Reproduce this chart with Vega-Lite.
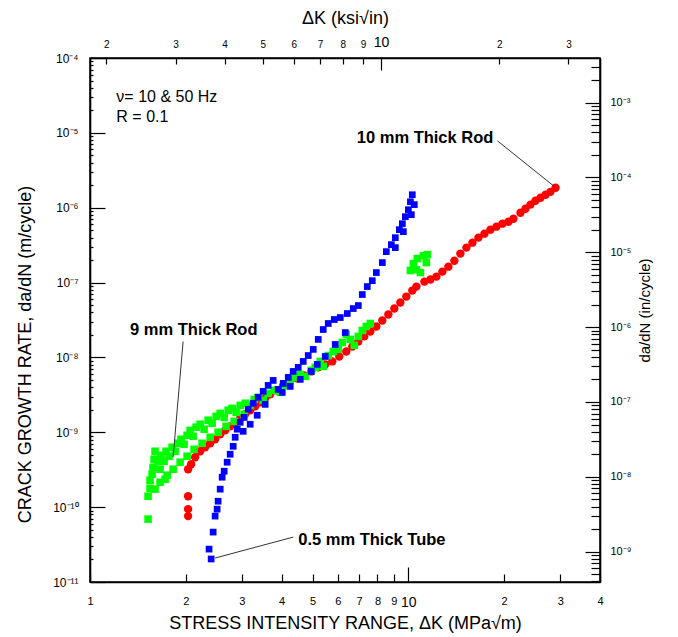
{
  "$schema": "https://vega.github.io/schema/vega-lite/v6.json",
  "width": 510,
  "height": 524,
  "autosize": {"type": "none"},
  "padding": {"left": 90, "top": 58, "right": 78, "bottom": 55},
  "background": "white",
  "config": {
    "font": "Liberation Sans",
    "view": {"stroke": "#000000", "strokeWidth": 1.5},
    "axis": {"domain": true, "domainColor": "#000000", "domainWidth": 1.6, "grid": false, "ticks": true, "tickColor": "#000000", "tickWidth": 1.2, "labelOverlap": false, "labelBound": false, "labelFlush": false, "labelColor": "#000000", "titleColor": "#000000", "labelFont": "Liberation Sans", "titleFont": "Liberation Sans", "titleFontWeight": "normal"}
  },
  "datasets": {
    "pts": [
      {"dK": 2.033, "rate": 7.59e-11, "series": "10 mm Thick Rod"},
      {"dK": 2.033, "rate": 9.4e-11, "series": "10 mm Thick Rod"},
      {"dK": 2.033, "rate": 1.40e-10, "series": "10 mm Thick Rod"},
      {"dK": 2.033, "rate": 3.21e-10, "series": "10 mm Thick Rod"},
      {"dK": 2.078, "rate": 3.74e-10, "series": "10 mm Thick Rod"},
      {"dK": 2.139, "rate": 4.64e-10, "series": "10 mm Thick Rod"},
      {"dK": 2.218, "rate": 5.58e-10, "series": "10 mm Thick Rod"},
      {"dK": 2.299, "rate": 6.31e-10, "series": "10 mm Thick Rod"},
      {"dK": 2.385, "rate": 7.13e-10, "series": "10 mm Thick Rod"},
      {"dK": 2.472, "rate": 8.07e-10, "series": "10 mm Thick Rod"},
      {"dK": 2.564, "rate": 9.40e-10, "series": "10 mm Thick Rod"},
      {"dK": 2.658, "rate": 1.06e-9, "series": "10 mm Thick Rod"},
      {"dK": 2.756, "rate": 1.20e-9, "series": "10 mm Thick Rod"},
      {"dK": 2.858, "rate": 1.36e-9, "series": "10 mm Thick Rod"},
      {"dK": 2.963, "rate": 1.54e-9, "series": "10 mm Thick Rod"},
      {"dK": 3.072, "rate": 1.74e-9, "series": "10 mm Thick Rod"},
      {"dK": 3.185, "rate": 1.97e-9, "series": "10 mm Thick Rod"},
      {"dK": 3.303, "rate": 2.22e-9, "series": "10 mm Thick Rod"},
      {"dK": 3.424, "rate": 2.51e-9, "series": "10 mm Thick Rod"},
      {"dK": 3.550, "rate": 2.84e-9, "series": "10 mm Thick Rod"},
      {"dK": 3.681, "rate": 3.21e-9, "series": "10 mm Thick Rod"},
      {"dK": 3.845, "rate": 3.63e-9, "series": "10 mm Thick Rod"},
      {"dK": 4.046, "rate": 4.23e-9, "series": "10 mm Thick Rod"},
      {"dK": 4.255, "rate": 4.79e-9, "series": "10 mm Thick Rod"},
      {"dK": 4.476, "rate": 5.25e-9, "series": "10 mm Thick Rod"},
      {"dK": 4.710, "rate": 5.75e-9, "series": "10 mm Thick Rod"},
      {"dK": 4.955, "rate": 6.50e-9, "series": "10 mm Thick Rod"},
      {"dK": 5.212, "rate": 7.36e-9, "series": "10 mm Thick Rod"},
      {"dK": 5.483, "rate": 8.07e-9, "series": "10 mm Thick Rod"},
      {"dK": 5.768, "rate": 8.84e-9, "series": "10 mm Thick Rod"},
      {"dK": 6.067, "rate": 1.03e-8, "series": "10 mm Thick Rod"},
      {"dK": 6.383, "rate": 1.20e-8, "series": "10 mm Thick Rod"},
      {"dK": 6.668, "rate": 1.40e-8, "series": "10 mm Thick Rod"},
      {"dK": 6.964, "rate": 1.63e-8, "series": "10 mm Thick Rod"},
      {"dK": 7.272, "rate": 1.91e-8, "series": "10 mm Thick Rod"},
      {"dK": 7.596, "rate": 2.22e-8, "series": "10 mm Thick Rod"},
      {"dK": 7.934, "rate": 2.59e-8, "series": "10 mm Thick Rod"},
      {"dK": 8.284, "rate": 3.11e-8, "series": "10 mm Thick Rod"},
      {"dK": 8.652, "rate": 3.74e-8, "series": "10 mm Thick Rod"},
      {"dK": 9.036, "rate": 4.50e-8, "series": "10 mm Thick Rod"},
      {"dK": 9.437, "rate": 5.41e-8, "series": "10 mm Thick Rod"},
      {"dK": 9.856, "rate": 6.50e-8, "series": "10 mm Thick Rod"},
      {"dK": 10.29, "rate": 7.82e-8, "series": "10 mm Thick Rod"},
      {"dK": 10.60, "rate": 8.84e-8, "series": "10 mm Thick Rod"},
      {"dK": 11.23, "rate": 1.03e-7, "series": "10 mm Thick Rod"},
      {"dK": 11.73, "rate": 1.10e-7, "series": "10 mm Thick Rod"},
      {"dK": 12.25, "rate": 1.20e-7, "series": "10 mm Thick Rod"},
      {"dK": 12.79, "rate": 1.40e-7, "series": "10 mm Thick Rod"},
      {"dK": 13.36, "rate": 1.63e-7, "series": "10 mm Thick Rod"},
      {"dK": 13.95, "rate": 1.96e-7, "series": "10 mm Thick Rod"},
      {"dK": 14.57, "rate": 2.44e-7, "series": "10 mm Thick Rod"},
      {"dK": 15.22, "rate": 2.93e-7, "series": "10 mm Thick Rod"},
      {"dK": 15.90, "rate": 3.41e-7, "series": "10 mm Thick Rod"},
      {"dK": 16.60, "rate": 3.98e-7, "series": "10 mm Thick Rod"},
      {"dK": 17.34, "rate": 4.50e-7, "series": "10 mm Thick Rod"},
      {"dK": 18.11, "rate": 5.09e-7, "series": "10 mm Thick Rod"},
      {"dK": 18.91, "rate": 5.58e-7, "series": "10 mm Thick Rod"},
      {"dK": 19.75, "rate": 6.12e-7, "series": "10 mm Thick Rod"},
      {"dK": 20.63, "rate": 6.50e-7, "series": "10 mm Thick Rod"},
      {"dK": 21.39, "rate": 7.13e-7, "series": "10 mm Thick Rod"},
      {"dK": 22.50, "rate": 8.58e-7, "series": "10 mm Thick Rod"},
      {"dK": 23.33, "rate": 9.70e-7, "series": "10 mm Thick Rod"},
      {"dK": 24.19, "rate": 1.10e-6, "series": "10 mm Thick Rod"},
      {"dK": 25.08, "rate": 1.24e-6, "series": "10 mm Thick Rod"},
      {"dK": 26.01, "rate": 1.36e-6, "series": "10 mm Thick Rod"},
      {"dK": 26.97, "rate": 1.49e-6, "series": "10 mm Thick Rod"},
      {"dK": 27.96, "rate": 1.63e-6, "series": "10 mm Thick Rod"},
      {"dK": 29.00, "rate": 1.85e-6, "series": "10 mm Thick Rod"},

      {"dK": 1.522, "rate": 6.92e-11, "series": "9 mm Thick Rod"},
      {"dK": 1.522, "rate": 1.40e-10, "series": "9 mm Thick Rod"},
      {"dK": 1.544, "rate": 1.79e-10, "series": "9 mm Thick Rod"},
      {"dK": 1.544, "rate": 2.29e-10, "series": "9 mm Thick Rod"},
      {"dK": 1.567, "rate": 2.75e-10, "series": "9 mm Thick Rod"},
      {"dK": 1.578, "rate": 3.41e-10, "series": "9 mm Thick Rod"},
      {"dK": 1.590, "rate": 4.37e-10, "series": "9 mm Thick Rod"},
      {"dK": 1.601, "rate": 5.58e-10, "series": "9 mm Thick Rod"},
      {"dK": 1.601, "rate": 1.74e-10, "series": "9 mm Thick Rod"},
      {"dK": 1.636, "rate": 4.10e-10, "series": "9 mm Thick Rod"},
      {"dK": 1.660, "rate": 3.21e-10, "series": "9 mm Thick Rod"},
      {"dK": 1.660, "rate": 2.15e-10, "series": "9 mm Thick Rod"},
      {"dK": 1.672, "rate": 4.93e-10, "series": "9 mm Thick Rod"},
      {"dK": 1.709, "rate": 4.10e-10, "series": "9 mm Thick Rod"},
      {"dK": 1.722, "rate": 2.36e-10, "series": "9 mm Thick Rod"},
      {"dK": 1.734, "rate": 5.58e-10, "series": "9 mm Thick Rod"},
      {"dK": 1.747, "rate": 2.67e-10, "series": "9 mm Thick Rod"},
      {"dK": 1.772, "rate": 4.79e-10, "series": "9 mm Thick Rod"},
      {"dK": 1.811, "rate": 6.31e-10, "series": "9 mm Thick Rod"},
      {"dK": 1.824, "rate": 3.21e-10, "series": "9 mm Thick Rod"},
      {"dK": 1.851, "rate": 5.58e-10, "series": "9 mm Thick Rod"},
      {"dK": 1.891, "rate": 7.13e-10, "series": "9 mm Thick Rod"},
      {"dK": 1.919, "rate": 3.98e-10, "series": "9 mm Thick Rod"},
      {"dK": 1.932, "rate": 8.07e-10, "series": "9 mm Thick Rod"},
      {"dK": 1.975, "rate": 6.92e-10, "series": "9 mm Thick Rod"},
      {"dK": 2.018, "rate": 9.12e-10, "series": "9 mm Thick Rod"},
      {"dK": 2.018, "rate": 4.79e-10, "series": "9 mm Thick Rod"},
      {"dK": 2.063, "rate": 1.06e-9, "series": "9 mm Thick Rod"},
      {"dK": 2.108, "rate": 8.84e-10, "series": "9 mm Thick Rod"},
      {"dK": 2.123, "rate": 5.93e-10, "series": "9 mm Thick Rod"},
      {"dK": 2.154, "rate": 1.17e-9, "series": "9 mm Thick Rod"},
      {"dK": 2.218, "rate": 1.28e-9, "series": "9 mm Thick Rod"},
      {"dK": 2.250, "rate": 7.13e-10, "series": "9 mm Thick Rod"},
      {"dK": 2.283, "rate": 1.10e-9, "series": "9 mm Thick Rod"},
      {"dK": 2.350, "rate": 1.45e-9, "series": "9 mm Thick Rod"},
      {"dK": 2.385, "rate": 8.58e-10, "series": "9 mm Thick Rod"},
      {"dK": 2.419, "rate": 1.32e-9, "series": "9 mm Thick Rod"},
      {"dK": 2.490, "rate": 1.63e-9, "series": "9 mm Thick Rod"},
      {"dK": 2.526, "rate": 1.00e-9, "series": "9 mm Thick Rod"},
      {"dK": 2.564, "rate": 1.79e-9, "series": "9 mm Thick Rod"},
      {"dK": 2.639, "rate": 1.58e-9, "series": "9 mm Thick Rod"},
      {"dK": 2.677, "rate": 1.20e-9, "series": "9 mm Thick Rod"},
      {"dK": 2.716, "rate": 1.97e-9, "series": "9 mm Thick Rod"},
      {"dK": 2.796, "rate": 2.09e-9, "series": "9 mm Thick Rod"},
      {"dK": 2.837, "rate": 1.40e-9, "series": "9 mm Thick Rod"},
      {"dK": 2.878, "rate": 1.85e-9, "series": "9 mm Thick Rod"},
      {"dK": 2.963, "rate": 2.29e-9, "series": "9 mm Thick Rod"},
      {"dK": 3.050, "rate": 1.74e-9, "series": "9 mm Thick Rod"},
      {"dK": 3.072, "rate": 2.44e-9, "series": "9 mm Thick Rod"},
      {"dK": 3.185, "rate": 2.29e-9, "series": "9 mm Thick Rod"},
      {"dK": 3.279, "rate": 2.75e-9, "series": "9 mm Thick Rod"},
      {"dK": 3.375, "rate": 2.93e-9, "series": "9 mm Thick Rod"},
      {"dK": 3.499, "rate": 2.67e-9, "series": "9 mm Thick Rod"},
      {"dK": 3.628, "rate": 3.31e-9, "series": "9 mm Thick Rod"},
      {"dK": 3.789, "rate": 3.63e-9, "series": "9 mm Thick Rod"},
      {"dK": 3.958, "rate": 3.41e-9, "series": "9 mm Thick Rod"},
      {"dK": 4.105, "rate": 4.23e-9, "series": "9 mm Thick Rod"},
      {"dK": 4.255, "rate": 4.93e-9, "series": "9 mm Thick Rod"},
      {"dK": 4.412, "rate": 5.41e-9, "series": "9 mm Thick Rod"},
      {"dK": 4.575, "rate": 5.93e-9, "series": "9 mm Thick Rod"},
      {"dK": 4.744, "rate": 5.58e-9, "series": "9 mm Thick Rod"},
      {"dK": 4.955, "rate": 6.71e-9, "series": "9 mm Thick Rod"},
      {"dK": 5.100, "rate": 7.36e-9, "series": "9 mm Thick Rod"},
      {"dK": 5.288, "rate": 8.84e-9, "series": "9 mm Thick Rod"},
      {"dK": 5.404, "rate": 7.59e-9, "series": "9 mm Thick Rod"},
      {"dK": 5.603, "rate": 1.06e-8, "series": "9 mm Thick Rod"},
      {"dK": 5.810, "rate": 1.20e-8, "series": "9 mm Thick Rod"},
      {"dK": 6.025, "rate": 1.28e-8, "series": "9 mm Thick Rod"},
      {"dK": 6.201, "rate": 1.58e-8, "series": "9 mm Thick Rod"},
      {"dK": 6.383, "rate": 2.03e-8, "series": "9 mm Thick Rod"},
      {"dK": 6.570, "rate": 1.74e-8, "series": "9 mm Thick Rod"},
      {"dK": 6.764, "rate": 1.45e-8, "series": "9 mm Thick Rod"},
      {"dK": 6.964, "rate": 1.91e-8, "series": "9 mm Thick Rod"},
      {"dK": 7.167, "rate": 2.29e-8, "series": "9 mm Thick Rod"},
      {"dK": 7.378, "rate": 2.59e-8, "series": "9 mm Thick Rod"},
      {"dK": 7.596, "rate": 2.84e-8, "series": "9 mm Thick Rod"},
      {"dK": 10.15, "rate": 1.45e-7, "series": "9 mm Thick Rod"},
      {"dK": 10.37, "rate": 1.79e-7, "series": "9 mm Thick Rod"},
      {"dK": 10.60, "rate": 1.49e-7, "series": "9 mm Thick Rod"},
      {"dK": 10.67, "rate": 2.09e-7, "series": "9 mm Thick Rod"},
      {"dK": 10.91, "rate": 1.36e-7, "series": "9 mm Thick Rod"},
      {"dK": 11.15, "rate": 2.29e-7, "series": "9 mm Thick Rod"},
      {"dK": 11.39, "rate": 1.85e-7, "series": "9 mm Thick Rod"},
      {"dK": 11.47, "rate": 2.36e-7, "series": "9 mm Thick Rod"},

      {"dK": 2.402, "rate": 2.03e-11, "series": "0.5 mm Thick Tube"},
      {"dK": 2.366, "rate": 2.75e-11, "series": "0.5 mm Thick Tube"},
      {"dK": 2.437, "rate": 4.64e-11, "series": "0.5 mm Thick Tube"},
      {"dK": 2.472, "rate": 7.59e-11, "series": "0.5 mm Thick Tube"},
      {"dK": 2.508, "rate": 9.40e-11, "series": "0.5 mm Thick Tube"},
      {"dK": 2.526, "rate": 1.20e-10, "series": "0.5 mm Thick Tube"},
      {"dK": 2.564, "rate": 1.74e-10, "series": "0.5 mm Thick Tube"},
      {"dK": 2.601, "rate": 2.51e-10, "series": "0.5 mm Thick Tube"},
      {"dK": 2.639, "rate": 3.02e-10, "series": "0.5 mm Thick Tube"},
      {"dK": 2.697, "rate": 3.98e-10, "series": "0.5 mm Thick Tube"},
      {"dK": 2.756, "rate": 5.09e-10, "series": "0.5 mm Thick Tube"},
      {"dK": 2.817, "rate": 6.50e-10, "series": "0.5 mm Thick Tube"},
      {"dK": 2.858, "rate": 8.58e-10, "series": "0.5 mm Thick Tube"},
      {"dK": 2.900, "rate": 1.10e-9, "series": "0.5 mm Thick Tube"},
      {"dK": 2.963, "rate": 1.36e-9, "series": "0.5 mm Thick Tube"},
      {"dK": 3.050, "rate": 1.58e-9, "series": "0.5 mm Thick Tube"},
      {"dK": 3.140, "rate": 2.03e-9, "series": "0.5 mm Thick Tube"},
      {"dK": 3.255, "rate": 2.44e-9, "series": "0.5 mm Thick Tube"},
      {"dK": 3.375, "rate": 2.93e-9, "series": "0.5 mm Thick Tube"},
      {"dK": 3.499, "rate": 3.52e-9, "series": "0.5 mm Thick Tube"},
      {"dK": 3.628, "rate": 4.23e-9, "series": "0.5 mm Thick Tube"},
      {"dK": 3.762, "rate": 4.93e-9, "series": "0.5 mm Thick Tube"},
      {"dK": 3.028, "rate": 1.03e-9, "series": "0.5 mm Thick Tube"},
      {"dK": 3.185, "rate": 1.28e-9, "series": "0.5 mm Thick Tube"},
      {"dK": 3.351, "rate": 1.69e-9, "series": "0.5 mm Thick Tube"},
      {"dK": 3.550, "rate": 2.36e-9, "series": "0.5 mm Thick Tube"},
      {"dK": 3.901, "rate": 3.74e-9, "series": "0.5 mm Thick Tube"},
      {"dK": 4.017, "rate": 3.41e-9, "series": "0.5 mm Thick Tube"},
      {"dK": 4.046, "rate": 4.50e-9, "series": "0.5 mm Thick Tube"},
      {"dK": 4.195, "rate": 5.41e-9, "series": "0.5 mm Thick Tube"},
      {"dK": 4.255, "rate": 4.10e-9, "series": "0.5 mm Thick Tube"},
      {"dK": 4.348, "rate": 6.50e-9, "series": "0.5 mm Thick Tube"},
      {"dK": 4.509, "rate": 7.36e-9, "series": "0.5 mm Thick Tube"},
      {"dK": 4.575, "rate": 5.09e-9, "series": "0.5 mm Thick Tube"},
      {"dK": 4.676, "rate": 8.84e-9, "series": "0.5 mm Thick Tube"},
      {"dK": 4.847, "rate": 1.06e-8, "series": "0.5 mm Thick Tube"},
      {"dK": 4.955, "rate": 6.50e-9, "series": "0.5 mm Thick Tube"},
      {"dK": 5.027, "rate": 1.28e-8, "series": "0.5 mm Thick Tube"},
      {"dK": 5.174, "rate": 8.07e-9, "series": "0.5 mm Thick Tube"},
      {"dK": 5.212, "rate": 1.74e-8, "series": "0.5 mm Thick Tube"},
      {"dK": 5.404, "rate": 2.36e-8, "series": "0.5 mm Thick Tube"},
      {"dK": 5.483, "rate": 1.03e-8, "series": "0.5 mm Thick Tube"},
      {"dK": 5.603, "rate": 2.84e-8, "series": "0.5 mm Thick Tube"},
      {"dK": 5.852, "rate": 3.21e-8, "series": "0.5 mm Thick Tube"},
      {"dK": 5.893, "rate": 1.49e-8, "series": "0.5 mm Thick Tube"},
      {"dK": 6.112, "rate": 3.41e-8, "series": "0.5 mm Thick Tube"},
      {"dK": 6.337, "rate": 2.15e-8, "series": "0.5 mm Thick Tube"},
      {"dK": 6.430, "rate": 3.86e-8, "series": "0.5 mm Thick Tube"},
      {"dK": 6.714, "rate": 4.50e-8, "series": "0.5 mm Thick Tube"},
      {"dK": 6.964, "rate": 4.93e-8, "series": "0.5 mm Thick Tube"},
      {"dK": 7.167, "rate": 6.92e-8, "series": "0.5 mm Thick Tube"},
      {"dK": 7.431, "rate": 8.84e-8, "series": "0.5 mm Thick Tube"},
      {"dK": 7.704, "rate": 1.06e-7, "series": "0.5 mm Thick Tube"},
      {"dK": 7.934, "rate": 1.36e-7, "series": "0.5 mm Thick Tube"},
      {"dK": 8.284, "rate": 1.85e-7, "series": "0.5 mm Thick Tube"},
      {"dK": 8.527, "rate": 2.59e-7, "series": "0.5 mm Thick Tube"},
      {"dK": 8.842, "rate": 3.21e-7, "series": "0.5 mm Thick Tube"},
      {"dK": 9.101, "rate": 2.93e-7, "series": "0.5 mm Thick Tube"},
      {"dK": 9.101, "rate": 3.98e-7, "series": "0.5 mm Thick Tube"},
      {"dK": 9.370, "rate": 5.09e-7, "series": "0.5 mm Thick Tube"},
      {"dK": 9.575, "rate": 6.12e-7, "series": "0.5 mm Thick Tube"},
      {"dK": 9.645, "rate": 4.79e-7, "series": "0.5 mm Thick Tube"},
      {"dK": 9.786, "rate": 7.59e-7, "series": "0.5 mm Thick Tube"},
      {"dK": 10.00, "rate": 9.40e-7, "series": "0.5 mm Thick Tube"},
      {"dK": 10.22, "rate": 8.07e-7, "series": "0.5 mm Thick Tube"},
      {"dK": 10.15, "rate": 1.20e-6, "series": "0.5 mm Thick Tube"},
      {"dK": 10.44, "rate": 1.10e-6, "series": "0.5 mm Thick Tube"},
      {"dK": 10.29, "rate": 1.49e-6, "series": "0.5 mm Thick Tube"}
    ],
    "notesPlain": [
      {"dK": 1.21, "rate": 3.02e-5, "label": "ν= 10 & 50 Hz"},
      {"dK": 1.21, "rate": 1.63e-5, "label": "R = 0.1"}
    ],
    "notesLeft": [
      {"dK": 1.336, "rate": 2.36e-8, "label": "9 mm Thick Rod"},
      {"dK": 4.509, "rate": 3.63e-11, "label": "0.5 mm Thick Tube"}
    ],
    "notesRight": [
      {"dK": 18.5, "rate": 8.58e-6, "label": "10 mm Thick Rod"}
    ],
    "leaders": [
      {"dK": 19.05, "rate": 7.82e-6, "dK2": 28.58, "rate2": 1.96e-6},
      {"dK": 1.961, "rate": 1.63e-8, "dK2": 1.824, "rate2": 4.64e-10},
      {"dK": 4.348, "rate": 3.98e-11, "dK2": 2.472, "rate2": 2.09e-11}
    ],
    "anchors": [
      {"ksi": 10, "inch": 1e-6}
    ]
  },
  "layer": [
    {
      "layer": [
        {
          "data": {"name": "pts"},
          "mark": {"type": "point", "filled": true, "opacity": 1, "strokeWidth": 0},
          "encoding": {
            "x": {
              "field": "dK", "type": "quantitative",
              "scale": {"type": "log", "domain": [1, 40], "nice": false},
              "title": "STRESS INTENSITY RANGE, ΔK  (MPa√m)",
              "axis": {
                "orient": "bottom",
                "values": [1, 2, 3, 4, 5, 6, 7, 8, 9, 10, 20, 30, 40],
                "labelExpr": "datum.value == 20 ? '2' : datum.value == 30 ? '3' : datum.value == 40 ? '4' : '' + datum.value",
                "labelFontSize": {"condition": {"test": "datum.value == 10", "value": 14}, "value": 11},
                "tickSize": {"condition": {"test": "datum.value == 10", "value": -15}, "value": -8},
                "labelPadding": {"condition": {"test": "datum.value == 10", "value": 28}, "value": 21},
                "titleFontSize": 18, "titlePadding": 5
              }
            },
            "y": {
              "field": "rate", "type": "quantitative",
              "scale": {"type": "log", "domain": [1e-11, 1e-4], "nice": false},
              "title": "CRACK GROWTH RATE, da/dN  (m/cycle)",
              "axis": {
                "orient": "left",
                "values": [1e-11, 2e-11, 3e-11, 4e-11, 5e-11, 6e-11, 7e-11, 8e-11, 9e-11, 1e-10, 2e-10, 3e-10, 4e-10, 5e-10, 6e-10, 7e-10, 8e-10, 9e-10, 1e-9, 2e-9, 3e-9, 4e-9, 5e-9, 6e-9, 7e-9, 8e-9, 9e-9, 1e-8, 2e-8, 3e-8, 4e-8, 5e-8, 6e-8, 7e-8, 8e-8, 9e-8, 1e-7, 2e-7, 3e-7, 4e-7, 5e-7, 6e-7, 7e-7, 8e-7, 9e-7, 1e-6, 2e-6, 3e-6, 4e-6, 5e-6, 6e-6, 7e-6, 8e-6, 9e-6, 1e-5, 2e-5, 3e-5, 4e-5, 5e-5, 6e-5, 7e-5, 8e-5, 9e-5, 1e-4],
                "labelExpr": "datum.value == 1e-4 ? '10⁻⁴' : datum.value == 1e-5 ? '10⁻⁵' : datum.value == 1e-6 ? '10⁻⁶' : datum.value == 1e-7 ? '10⁻⁷' : datum.value == 1e-8 ? '10⁻⁸' : datum.value == 1e-9 ? '10⁻⁹' : datum.value == 1e-10 ? '10⁻¹⁰' : datum.value == 1e-11 ? '10⁻¹¹' : ''",
                "labelFontSize": 12,
                "tickSize": {"condition": {"test": "abs(log(datum.value)/LN10 - round(log(datum.value)/LN10)) < 0.001", "value": -15}, "value": -3},
                "labelPadding": {"condition": {"test": "abs(log(datum.value)/LN10 - round(log(datum.value)/LN10)) < 0.001", "value": 27}, "value": 15},
                "titleFontSize": 18, "titlePadding": 18, "titleY": 296
              }
            },
            "color": {
              "field": "series", "type": "nominal", "legend": null,
              "scale": {"domain": ["10 mm Thick Rod", "9 mm Thick Rod", "0.5 mm Thick Tube"], "range": ["#ff0000", "#00ff00", "#0000ff"]}
            },
            "shape": {
              "field": "series", "type": "nominal", "legend": null,
              "scale": {"domain": ["10 mm Thick Rod", "9 mm Thick Rod", "0.5 mm Thick Tube"], "range": ["circle", "square", "square"]}
            },
            "size": {
              "field": "series", "type": "nominal", "legend": null,
              "scale": {"domain": ["10 mm Thick Rod", "9 mm Thick Rod", "0.5 mm Thick Tube"], "range": [70, 45, 34]}
            }
          }
        },
        {
          "data": {"name": "leaders"},
          "mark": {"type": "rule", "color": "#333333", "strokeWidth": 1},
          "encoding": {
            "x": {"field": "dK", "type": "quantitative", "title": "STRESS INTENSITY RANGE, ΔK  (MPa√m)"},
            "y": {"field": "rate", "type": "quantitative", "title": "CRACK GROWTH RATE, da/dN  (m/cycle)"},
            "x2": {"field": "dK2"},
            "y2": {"field": "rate2"}
          }
        },
        {
          "data": {"name": "notesPlain"},
          "mark": {"type": "text", "align": "left", "baseline": "middle", "fontSize": 16, "font": "Liberation Sans", "color": "#000000"},
          "encoding": {
            "x": {"field": "dK", "type": "quantitative", "title": "STRESS INTENSITY RANGE, ΔK  (MPa√m)"},
            "y": {"field": "rate", "type": "quantitative", "title": "CRACK GROWTH RATE, da/dN  (m/cycle)"},
            "text": {"field": "label"}
          }
        },
        {
          "data": {"name": "notesLeft"},
          "mark": {"type": "text", "align": "left", "baseline": "middle", "fontSize": 16.5, "fontWeight": "bold", "font": "Liberation Sans", "color": "#000000"},
          "encoding": {
            "x": {"field": "dK", "type": "quantitative", "title": "STRESS INTENSITY RANGE, ΔK  (MPa√m)"},
            "y": {"field": "rate", "type": "quantitative", "title": "CRACK GROWTH RATE, da/dN  (m/cycle)"},
            "text": {"field": "label"}
          }
        },
        {
          "data": {"name": "notesRight"},
          "mark": {"type": "text", "align": "right", "baseline": "middle", "fontSize": 16.5, "fontWeight": "bold", "font": "Liberation Sans", "color": "#000000"},
          "encoding": {
            "x": {"field": "dK", "type": "quantitative", "title": "STRESS INTENSITY RANGE, ΔK  (MPa√m)"},
            "y": {"field": "rate", "type": "quantitative", "title": "CRACK GROWTH RATE, da/dN  (m/cycle)"},
            "text": {"field": "label"}
          }
        }
      ]
    },
    {
      "data": {"name": "anchors"},
      "mark": {"type": "point", "opacity": 0},
      "encoding": {
        "x": {
          "field": "ksi", "type": "quantitative",
          "scale": {"type": "log", "domain": [1.817, 36.1], "nice": false},
          "title": "ΔK  (ksi√in)",
          "axis": {
            "orient": "top",
            "values": [2, 3, 4, 5, 6, 7, 8, 9, 10, 20, 30],
            "labelExpr": "datum.value == 20 ? '2' : datum.value == 30 ? '3' : '' + datum.value",
            "labelFontSize": {"condition": {"test": "datum.value == 10", "value": 14}, "value": 10},
            "tickSize": {"condition": {"test": "datum.value == 10", "value": -12}, "value": -6},
            "labelPadding": {"condition": {"test": "datum.value == 10", "value": 21}, "value": 15},
            "titleFontSize": 18, "titlePadding": 8
          }
        }
      }
    },
    {
      "data": {"name": "anchors"},
      "mark": {"type": "point", "opacity": 0},
      "encoding": {
        "y": {
          "field": "inch", "type": "quantitative",
          "scale": {"type": "log", "domain": [3.937e-10, 3.937e-3], "nice": false},
          "title": "da/dN  (in/cycle)",
          "axis": {
            "orient": "right",
            "values": [4e-10, 5e-10, 6e-10, 7e-10, 8e-10, 9e-10, 1e-9, 2e-9, 3e-9, 4e-9, 5e-9, 6e-9, 7e-9, 8e-9, 9e-9, 1e-8, 2e-8, 3e-8, 4e-8, 5e-8, 6e-8, 7e-8, 8e-8, 9e-8, 1e-7, 2e-7, 3e-7, 4e-7, 5e-7, 6e-7, 7e-7, 8e-7, 9e-7, 1e-6, 2e-6, 3e-6, 4e-6, 5e-6, 6e-6, 7e-6, 8e-6, 9e-6, 1e-5, 2e-5, 3e-5, 4e-5, 5e-5, 6e-5, 7e-5, 8e-5, 9e-5, 1e-4, 2e-4, 3e-4, 4e-4, 5e-4, 6e-4, 7e-4, 8e-4, 9e-4, 1e-3, 2e-3, 3e-3],
            "labelExpr": "datum.value == 1e-3 ? '10⁻³' : datum.value == 1e-4 ? '10⁻⁴' : datum.value == 1e-5 ? '10⁻⁵' : datum.value == 1e-6 ? '10⁻⁶' : datum.value == 1e-7 ? '10⁻⁷' : datum.value == 1e-8 ? '10⁻⁸' : datum.value == 1e-9 ? '10⁻⁹' : ''",
            "labelFontSize": 11,
            "tickSize": {"condition": {"test": "abs(log(datum.value)/LN10 - round(log(datum.value)/LN10)) < 0.001", "value": -15}, "value": -9},
            "labelPadding": {"condition": {"test": "abs(log(datum.value)/LN10 - round(log(datum.value)/LN10)) < 0.001", "value": 25}, "value": 19},
            "titleFontSize": 15, "titlePadding": 22, "titleAngle": 270, "titleY": 252
          }
        }
      }
    }
  ],
  "resolve": {"scale": {"x": "independent", "y": "independent"}}
}
